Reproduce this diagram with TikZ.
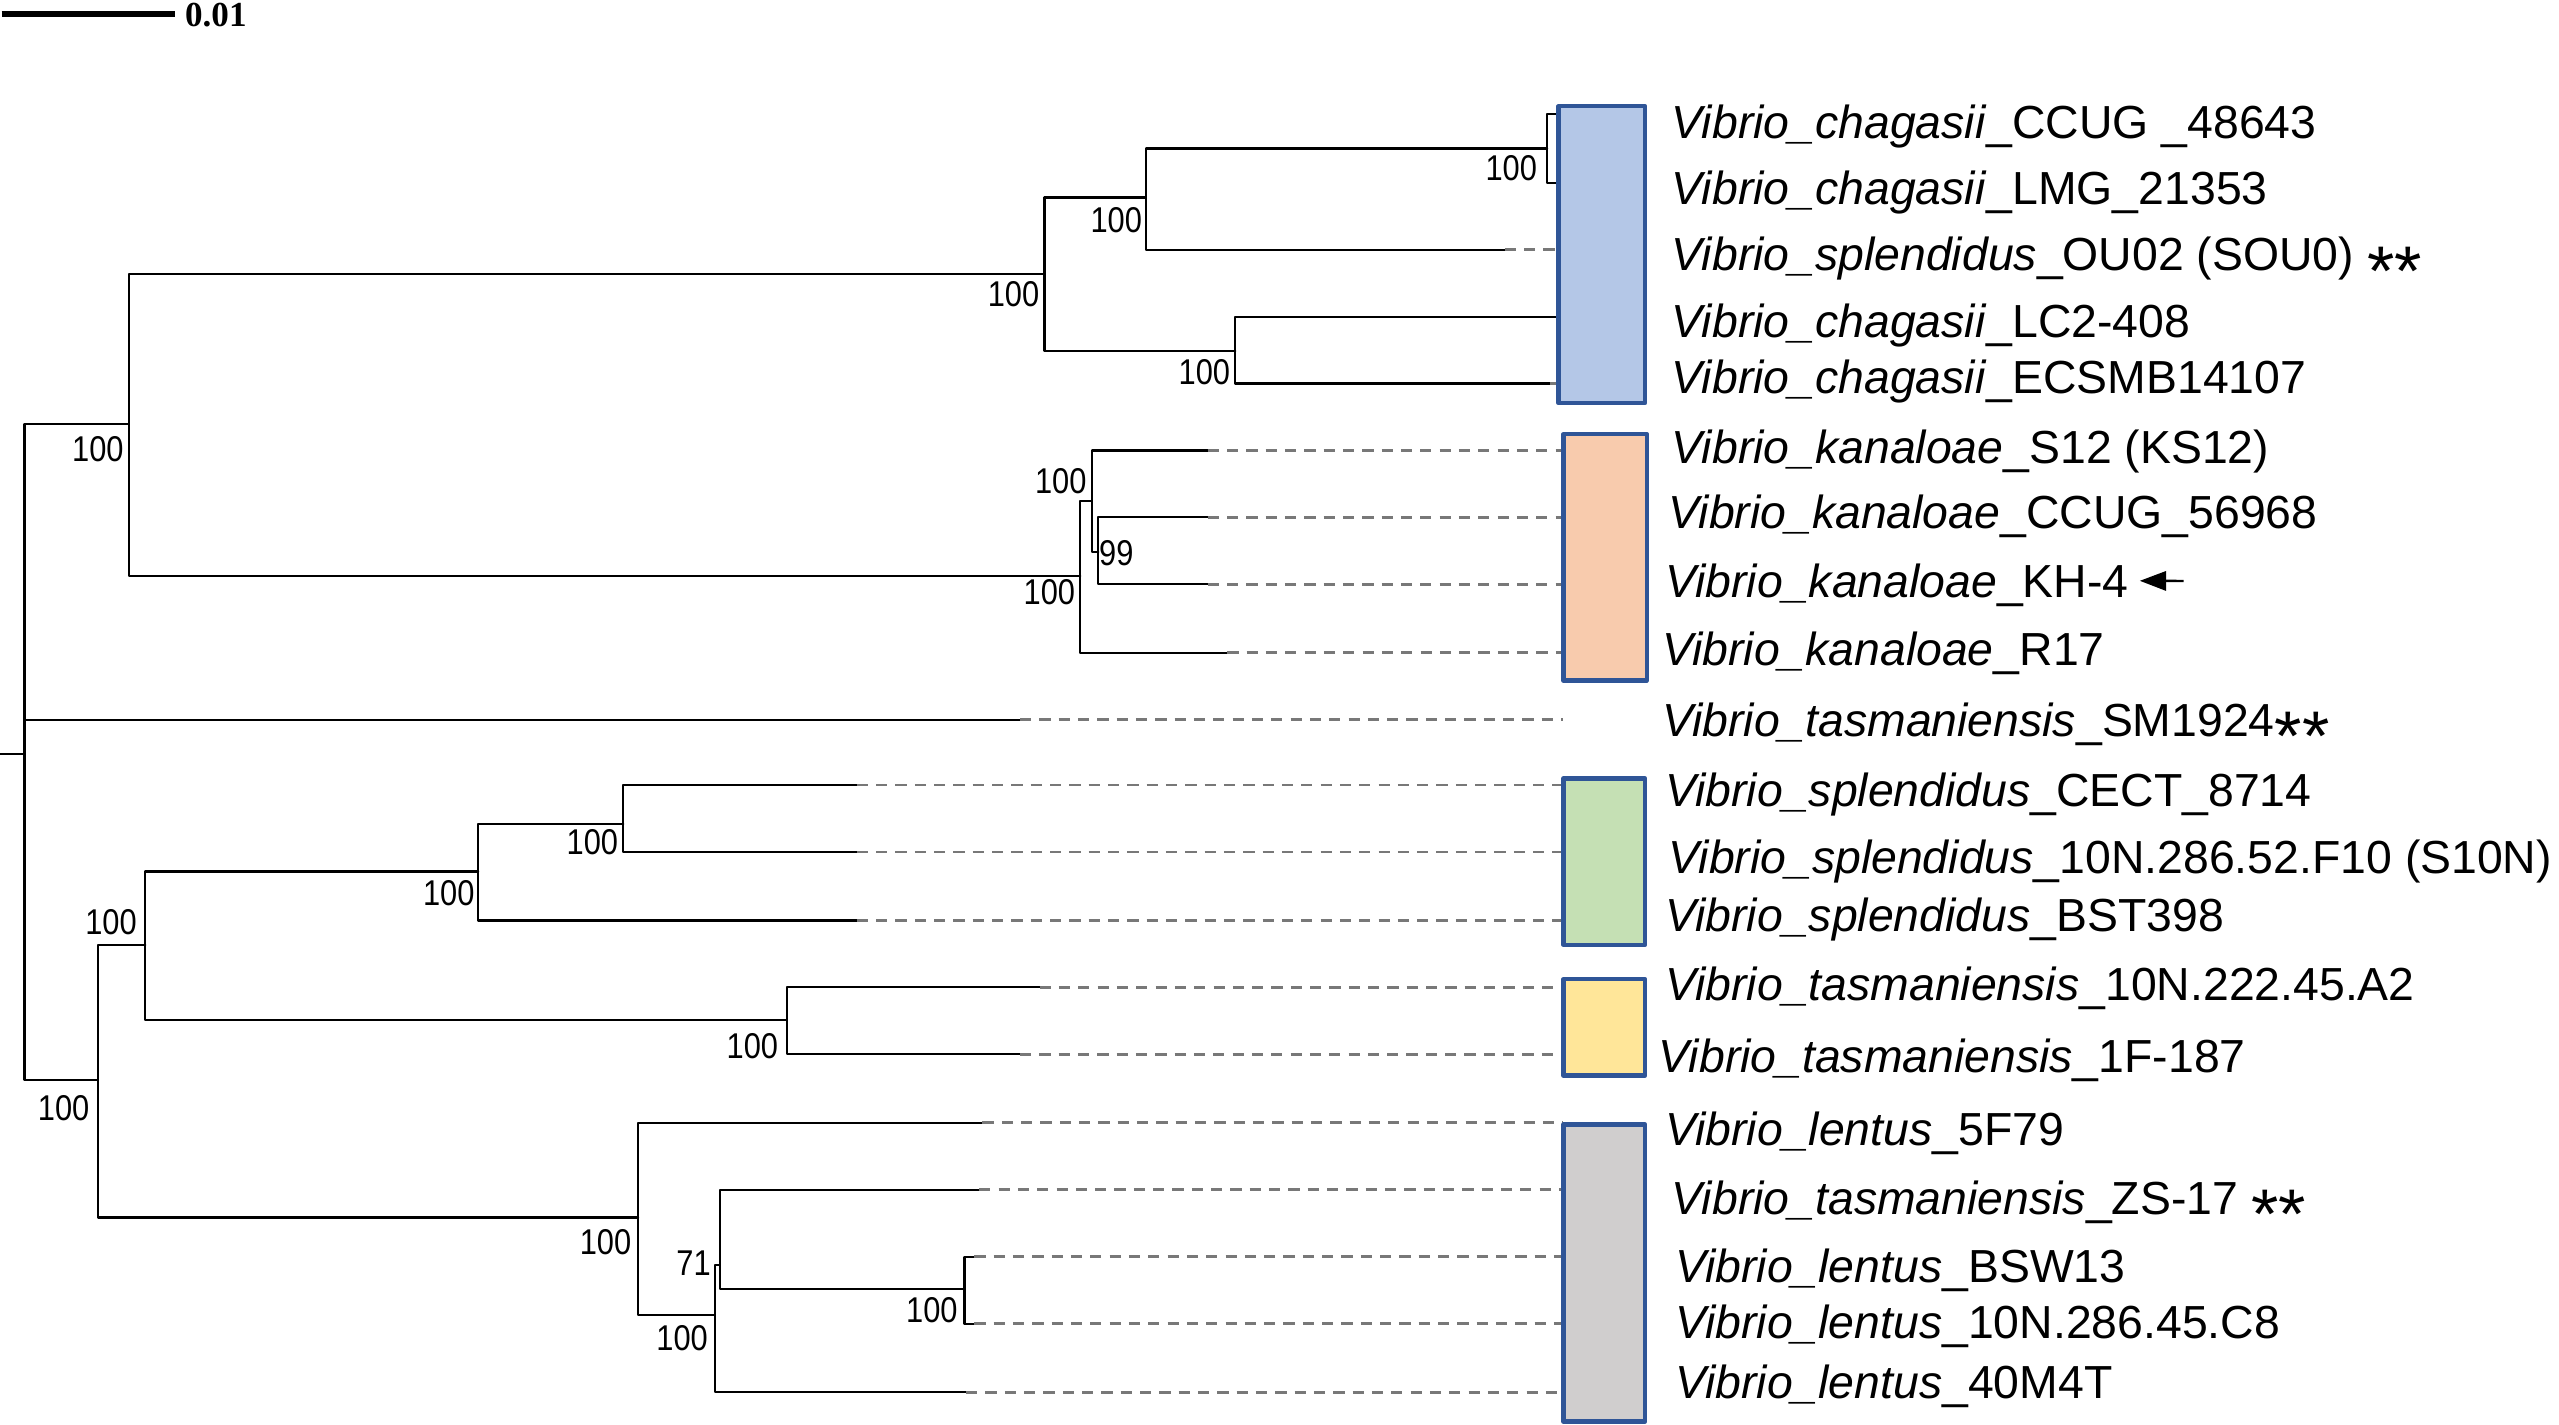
\documentclass[tikz,border=0pt]{standalone}
\usepackage{fontspec}
\setmainfont{Liberation Sans}
\newfontfamily\barfont{Liberation Serif}
\usetikzlibrary{arrows.meta}
\definecolor{cladeblue}{RGB}{180,199,231}
\definecolor{cladeorange}{RGB}{248,203,173}
\definecolor{cladegreen}{RGB}{197,224,180}
\definecolor{cladeyellow}{RGB}{255,230,153}
\definecolor{cladegray}{RGB}{208,206,206}
\definecolor{boxedge}{RGB}{47,85,151}
\definecolor{dashgray}{RGB}{120,120,120}
\newcommand\vib[2]{\textit{Vibrio\_#1}\_#2}
\newcommand\bsv[1]{\scalebox{0.86}[1]{#1}}
\newcommand\twostar{\raisebox{-7pt}[0pt][0pt]{\fontsize{20}{20}\selectfont **}}
\begin{document}
\begin{tikzpicture}[x=0.01632cm,y=-0.01632cm,line join=round,line cap=round,
	branch/.style={line width=0.6pt},
	tipdash/.style={dashgray,line width=0.8pt,line cap=butt,dash pattern=on 3.2pt off 2.3pt},
	clade/.style={draw=boxedge,line width=1.2pt},
	leaf/.style={anchor=base west,inner sep=0pt,text height=9.4pt,text depth=2.4pt,font=\fontsize{13.2}{15}\selectfont},
	bsl/.style={inner sep=0pt,font=\fontsize{10.2}{11}\selectfont}]
	\useasboundingbox (0,0) rectangle (1568,873);
	% scale bar
	\coordinate (sb0) at (1,8.6);
	\coordinate (sb1) at (107,8.6);
	\draw[line width=1.9pt,line cap=butt] (sb0) -- (sb1);
	\node[anchor=west,inner sep=0pt,font=\fontsize{10}{12}\selectfont\barfont\bfseries] (sbl) at (113,9) {0.01};
	% internal nodes
	\coordinate (stub) at (0,462);
	\coordinate (root) at (15,462);
	\coordinate (A) at (79,260);
	\coordinate (B) at (640,168);
	\coordinate (C) at (702,121);
	\coordinate (D) at (948,91);
	\coordinate (E) at (757,215);
	\coordinate (F) at (662,353);
	\coordinate (G) at (669,307);
	\coordinate (H) at (673,338);
	\coordinate (I) at (60,662);
	\coordinate (J) at (89,579);
	\coordinate (K) at (293,534);
	\coordinate (L) at (382,505);
	\coordinate (M) at (482,625);
	\coordinate (N) at (391,746);
	\coordinate (O) at (438,806);
	\coordinate (P) at (441,775);
	\coordinate (Q) at (591,790);
	\draw[branch] (stub) -- (root);
	\foreach \p/\c in {root/A,root/I,A/B,A/F,B/C,B/E,C/D,F/G,G/H,I/J,I/N,J/K,J/M,K/L,N/O,O/P,P/Q}
	\draw[branch] (\p) |- (\c);
	% leaves: parent / end of solid part / tip / y / number
	\foreach \p/\s/\t/\y/\n in {D/955/955/70/1,D/955/955/112/2,C/922/955/153/3,E/955/955/194/4,E/950/955/235/5,
		G/740/958/276/6,H/740/958/317/7,H/740/958/358/8,F/752/958/400/9,root/625/958/441/10,
		L/525/958/481/11,L/525/958/522/12,K/525/958/564/13,M/637/958/605/14,M/625/958/646/15,
		N/602/958/688/16,P/600/958/729/17,Q/597/958/770/18,Q/597/958/811/19,O/592/958/853/20}
	{
		\coordinate (s\n) at (\s,\y);
		\coordinate (t\n) at (\t,\y);
		\draw[branch] (\p) |- (s\n);
		\draw[tipdash] (s\n) -- (t\n);
	}
	% clade boxes
	\draw[clade,fill=cladeblue] (955,65) rectangle (1008,247);
	\draw[clade,fill=cladeorange] (958,266) rectangle (1009,417);
	\draw[clade,fill=cladegreen] (958,477) rectangle (1008,579);
	\draw[clade,fill=cladeyellow] (958,600) rectangle (1008,659);
	\draw[clade,fill=cladegray] (958,689) rectangle (1008,871);
	% bootstrap values
	\node[bsl] (bA) at (60,275) {\bsv{100}};
	\node[bsl] (bB) at (621,180) {\bsv{100}};
	\node[bsl] (bC) at (684,135) {\bsv{100}};
	\node[bsl] (bD) at (926,103) {\bsv{100}};
	\node[bsl] (bE) at (738,228) {\bsv{100}};
	\node[bsl] (bG) at (650,295) {\bsv{100}};
	\node[bsl] (bH) at (684,339) {\bsv{99}};
	\node[bsl] (bF) at (643,363) {\bsv{100}};
	\node[bsl] (bI) at (39,679) {\bsv{100}};
	\node[bsl] (bJ) at (68,565) {\bsv{100}};
	\node[bsl] (bK) at (275,547) {\bsv{100}};
	\node[bsl] (bL) at (363,516) {\bsv{100}};
	\node[bsl] (bM) at (461,641) {\bsv{100}};
	\node[bsl] (bN) at (371,761) {\bsv{100}};
	\node[bsl] (bP) at (425,774) {\bsv{71}};
	\node[bsl] (bO) at (418,820) {\bsv{100}};
	\node[bsl] (bQ) at (571,803) {\bsv{100}};
	% strain names
	\node[leaf] (lf1) at (1024,85) {\vib{chagasii}{CCUG \_48643}};
	\node[leaf] (lf2) at (1024,125) {\vib{chagasii}{LMG\_21353}};
	\node[leaf] (lf3) at (1024,166) {\vib{splendidus}{OU02 (SOU0) \twostar}};
	\node[leaf] (lf4) at (1024,207) {\vib{chagasii}{LC2-408}};
	\node[leaf] (lf5) at (1024,241) {\vib{chagasii}{ECSMB14107}};
	\node[leaf] (lf6) at (1024,284) {\vib{kanaloae}{S12 (KS12)}};
	\node[leaf] (lf7) at (1022,324) {\vib{kanaloae}{CCUG\_56968}};
	\node[leaf] (lf8) at (1020,366) {\vib{kanaloae}{KH-4}};
	\node[leaf] (lf9) at (1018,408) {\vib{kanaloae}{R17}};
	\node[leaf] (lf10) at (1018,451) {\vib{tasmaniensis}{SM1924\twostar}};
	\node[leaf] (lf11) at (1020,494) {\vib{splendidus}{CECT\_8714}};
	\node[leaf] (lf12) at (1022,535) {\vib{splendidus}{10N.286.52.F10 (S10N)}};
	\node[leaf] (lf13) at (1020,571) {\vib{splendidus}{BST398}};
	\node[leaf] (lf14) at (1020,613) {\vib{tasmaniensis}{10N.222.45.A2}};
	\node[leaf] (lf15) at (1016,657) {\vib{tasmaniensis}{1F-187}};
	\node[leaf] (lf16) at (1020,702) {\vib{lentus}{5F79}};
	\node[leaf] (lf17) at (1024,744) {\vib{tasmaniensis}{ZS-17 \twostar}};
	\node[leaf] (lf18) at (1026,786) {\vib{lentus}{BSW13}};
	\node[leaf] (lf19) at (1026,820) {\vib{lentus}{10N.286.45.C8}};
	\node[leaf] (lf20) at (1026,857) {\vib{lentus}{40M4T}};
	% pointer to KH-4
	\coordinate (kharr) at (1338,356);
	\draw[-{Triangle[length=7.5pt,width=5.5pt]},line width=0.7pt,line cap=butt] (kharr) -- ([shift={(3pt,4.7pt)}]lf8.base east);
\end{tikzpicture}
\end{document}
